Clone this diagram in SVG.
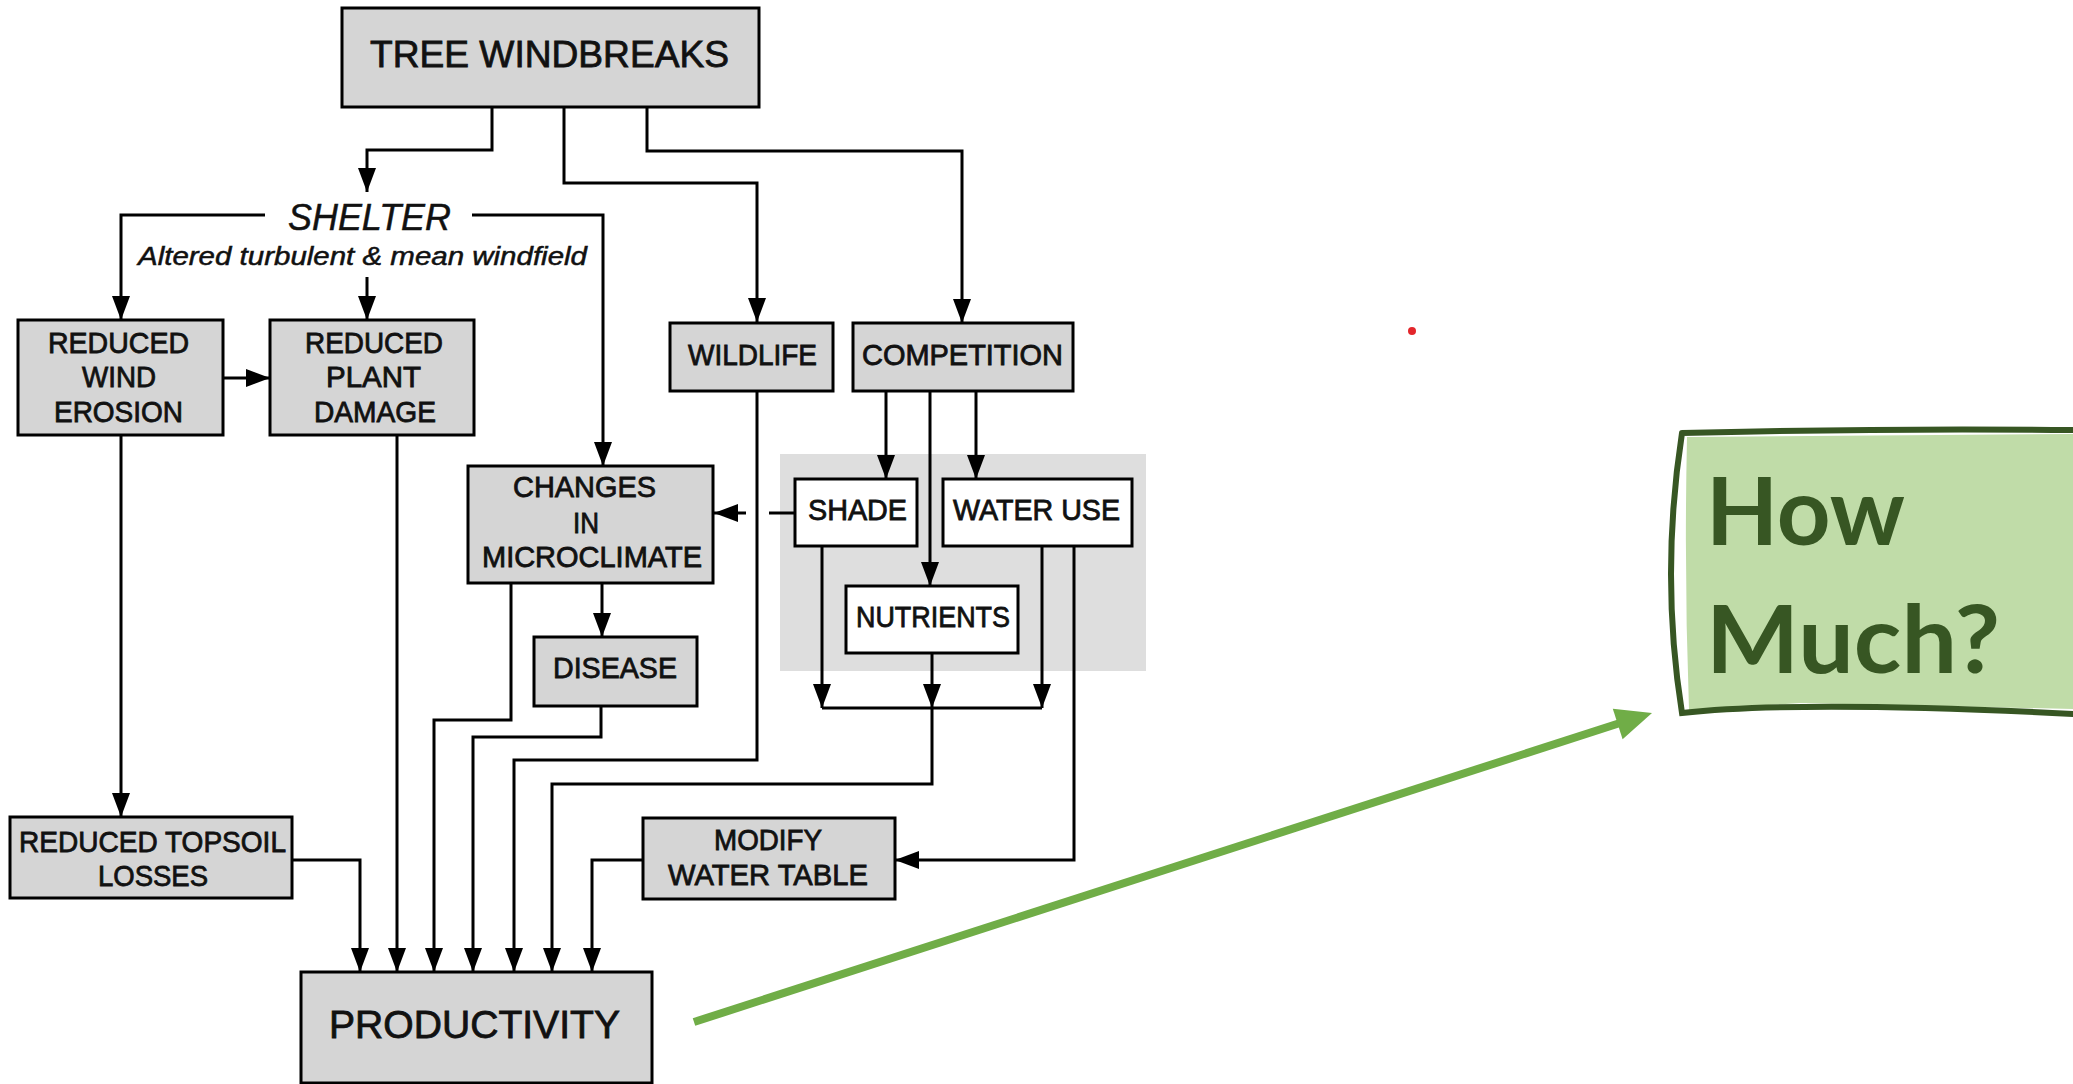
<svg xmlns="http://www.w3.org/2000/svg" width="2073" height="1084" viewBox="0 0 2073 1084">
<style>
.box{fill:#d5d5d5;stroke:#000;stroke-width:3}
.wbox{fill:#fff;stroke:#000;stroke-width:3}
.t{font-family:"Liberation Sans",Arial,sans-serif;font-size:29px;fill:#111;stroke:#111;stroke-width:0.8}
.ti{font-family:"Liberation Sans",Arial,sans-serif;font-style:italic;fill:#111;stroke:#111;stroke-width:0.5}
.c{fill:none;stroke:#000;stroke-width:3}
.a{marker-end:url(#ah)}
.hm{font-family:Lato,"Open Sans",sans-serif;font-weight:700;font-size:94px;fill:#375623}
</style>
<defs>
<marker id="ah" markerUnits="userSpaceOnUse" markerWidth="24" markerHeight="18" refX="24" refY="9" orient="auto">
<path d="M0,0 L24,9 L0,18 z" fill="#000"/>
</marker>
</defs>
<rect width="2073" height="1084" fill="#fff"/>
<rect id="competition-zone" x="780" y="454" width="366" height="217" fill="#dedede"/>
<g id="connectors">
<path class="c a" d="M492,107 V150 H367 V192"/>
<path class="c a" d="M564,107 V183 H757 V322"/>
<path class="c a" d="M647,107 V151 H962 V323"/>
<path class="c a" d="M265,215 H121 V320"/>
<path class="c a" d="M472,215 H603 V466"/>
<path class="c a" d="M367,277 V320"/>
<path class="c a" d="M223,378 H270"/>
<path class="c a" d="M121,435 V817"/>
<path class="c a" d="M397,435 V972"/>
<path class="c a" d="M511,583 V720 H434 V972"/>
<path class="c a" d="M602,583 V637"/>
<path class="c a" d="M601,706 V737 H473 V972"/>
<path class="c a" d="M757,391 V760 H514 V972"/>
<path class="c" d="M795,513 H769"/>
<path class="c a" d="M746,513 H714"/>
<path class="c a" d="M886,391 V479"/>
<path class="c a" d="M930,391 V586"/>
<path class="c a" d="M976,391 V479"/>
<path class="c a" d="M822,546 V708"/>
<path class="c a" d="M932,653 V708"/>
<path class="c a" d="M1042,546 V708"/>
<path class="c" d="M822,708 H1042"/>
<path class="c a" d="M932,708 V784 H552 V972"/>
<path class="c a" d="M1074,546 V860 H895"/>
<path class="c a" d="M643,860 H592 V972"/>
<path class="c a" d="M292,860 H360 V972"/>
<g id="green-arrow">
<line x1="694" y1="1022" x2="1620" y2="723" stroke="#70ad47" stroke-width="8"/>
<polygon points="1652,713 1612.8,708.8 1622.6,739.2" fill="#70ad47"/>
</g>
</g>
<g id="tree-windbreaks">
<rect class="box" x="342" y="8" width="417" height="99"/>
<text class="t" x="370" y="67" style="font-size:37px" textLength="359" lengthAdjust="spacingAndGlyphs">TREE WINDBREAKS</text>
</g>
<g id="shelter">
<text class="ti" x="288" y="230" style="font-size:37px" textLength="163" lengthAdjust="spacingAndGlyphs">SHELTER</text>
<text class="ti" x="138" y="265" style="font-size:25px" textLength="449" lengthAdjust="spacingAndGlyphs">Altered turbulent &amp; mean windfield</text>
</g>
<g id="reduced-wind-erosion">
<rect class="box" x="18" y="320" width="205" height="115"/>
<text class="t" x="48" y="353" textLength="141" lengthAdjust="spacingAndGlyphs">REDUCED</text>
<text class="t" x="82" y="387" textLength="74" lengthAdjust="spacingAndGlyphs">WIND</text>
<text class="t" x="54" y="422" textLength="129" lengthAdjust="spacingAndGlyphs">EROSION</text>
</g>
<g id="reduced-plant-damage">
<rect class="box" x="270" y="320" width="204" height="115"/>
<text class="t" x="305" y="353" textLength="138" lengthAdjust="spacingAndGlyphs">REDUCED</text>
<text class="t" x="326" y="387" textLength="95" lengthAdjust="spacingAndGlyphs">PLANT</text>
<text class="t" x="314" y="422" textLength="122" lengthAdjust="spacingAndGlyphs">DAMAGE</text>
</g>
<g id="wildlife">
<rect class="box" x="670" y="323" width="163" height="68"/>
<text class="t" x="688" y="365" textLength="129" lengthAdjust="spacingAndGlyphs">WILDLIFE</text>
</g>
<g id="competition">
<rect class="box" x="853" y="323" width="220" height="68"/>
<text class="t" x="862" y="365" textLength="201" lengthAdjust="spacingAndGlyphs">COMPETITION</text>
</g>
<g id="changes-in-microclimate">
<rect class="box" x="468" y="466" width="245" height="117"/>
<text class="t" x="513" y="497" textLength="143" lengthAdjust="spacingAndGlyphs">CHANGES</text>
<text class="t" x="573" y="533" textLength="26" lengthAdjust="spacingAndGlyphs">IN</text>
<text class="t" x="482" y="567" textLength="220" lengthAdjust="spacingAndGlyphs">MICROCLIMATE</text>
</g>
<g id="shade">
<rect class="wbox" x="795" y="479" width="122" height="67"/>
<text class="t" x="808" y="520" textLength="99" lengthAdjust="spacingAndGlyphs">SHADE</text>
</g>
<g id="water-use">
<rect class="wbox" x="943" y="479" width="189" height="67"/>
<text class="t" x="953" y="520" textLength="167" lengthAdjust="spacingAndGlyphs">WATER USE</text>
</g>
<g id="nutrients">
<rect class="wbox" x="846" y="586" width="172" height="67"/>
<text class="t" x="856" y="627" textLength="154" lengthAdjust="spacingAndGlyphs">NUTRIENTS</text>
</g>
<g id="disease">
<rect class="box" x="534" y="637" width="163" height="69"/>
<text class="t" x="553" y="678" textLength="124" lengthAdjust="spacingAndGlyphs">DISEASE</text>
</g>
<g id="reduced-topsoil-losses">
<rect class="box" x="10" y="817" width="282" height="81"/>
<text class="t" x="19" y="852" textLength="267" lengthAdjust="spacingAndGlyphs">REDUCED TOPSOIL</text>
<text class="t" x="98" y="886" textLength="110" lengthAdjust="spacingAndGlyphs">LOSSES</text>
</g>
<g id="modify-water-table">
<rect class="box" x="643" y="818" width="252" height="81"/>
<text class="t" x="714" y="850" textLength="108" lengthAdjust="spacingAndGlyphs">MODIFY</text>
<text class="t" x="668" y="885" textLength="200" lengthAdjust="spacingAndGlyphs">WATER TABLE</text>
</g>
<g id="productivity">
<rect class="box" x="301" y="972" width="351" height="111"/>
<text class="t" x="329" y="1038" style="font-size:38px" textLength="291" lengthAdjust="spacingAndGlyphs">PRODUCTIVITY</text>
</g>
<g id="how-much">
<path d="M1687,437 L2073,434 L2073,709 L1800,703 L1689,710 Q1684,575 1687,437 z" fill="#c0dca8"/>
<path d="M1682,433 Q1880,428 2073,430 M1682,433 Q1660,575 1682,713 Q1800,700 2073,714" fill="none" stroke="#375623" stroke-width="6" stroke-linecap="round"/>
<text class="hm" x="1706" y="545" textLength="199" lengthAdjust="spacingAndGlyphs">How</text>
<text class="hm" x="1706" y="673" textLength="294" lengthAdjust="spacingAndGlyphs">Much?</text>
</g>
<circle id="red-dot" cx="1412" cy="331" r="4" fill="#e3262b"/>
</svg>
